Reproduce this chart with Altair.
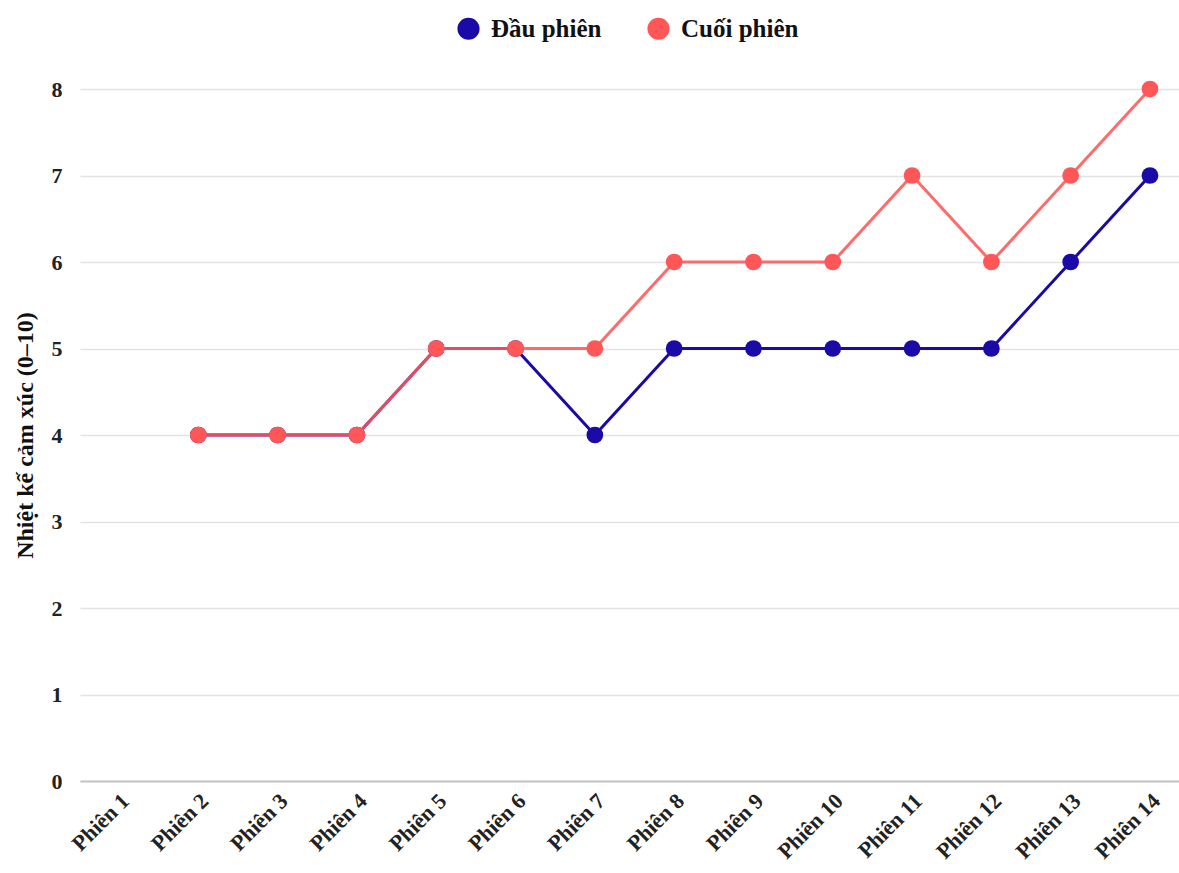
import altair as alt
import pandas as pd

sessions = [f"Phiên {i}" for i in range(1, 15)]
data_sessions = [f"Phiên {i}" for i in range(2, 15)]
dau_phien = [4, 4, 4, 5, 5, 4, 5, 5, 5, 5, 5, 6, 7]
cuoi_phien = [4, 4, 4, 5, 5, 5, 6, 6, 6, 7, 6, 7, 8]
series_names = ["Đầu phiên", "Cuối phiên"]
colors = ["#1a0aa8", "#ff5757"]

rows = []
for s, v in zip(data_sessions, dau_phien):
    rows.append({"session": s, "idx": sessions.index(s) + 1, "value": v, "series": series_names[0]})
for s, v in zip(data_sessions, cuoi_phien):
    rows.append({"session": s, "idx": sessions.index(s) + 1, "value": v, "series": series_names[1]})
df = pd.DataFrame(rows)

FONT = "Liberation Serif"

x_enc = alt.X(
    "idx:Q",
    scale=alt.Scale(domain=[0.508, 14.366], nice=False, zero=False),
    axis=alt.Axis(
        title=None,
        values=list(range(1, 15)),
        labelExpr="'Phiên ' + datum.value",
        labelAngle=-45,
        labelAlign="right",
        labelBaseline="middle",
        labelFont=FONT,
        labelFontSize=22,
        labelFontWeight="bold",
        labelColor="#222222",
        labelPadding=16,
        labelOffset=6,
        labelFlush=False,
        labelOverlap=False,
        ticks=False,
        domain=True,
        domainColor="#c4c4c4",
        domainWidth=2,
        grid=False,
    ),
)
y_enc = alt.Y(
    "value:Q",
    scale=alt.Scale(domain=[0, 8], nice=False),
    axis=alt.Axis(
        title="Nhiệt kế cảm xúc (0–10)",
        titleFont=FONT,
        titleFontSize=24,
        titleFontWeight="bold",
        titleColor="#111111",
        titlePadding=14,
        values=list(range(0, 9)),
        labelFont=FONT,
        labelFontSize=22,
        labelFontWeight="bold",
        labelColor="#222222",
        labelPadding=18,
        ticks=False,
        domain=False,
        gridColor="#e3e3e3",
        gridWidth=1.5,
    ),
)
color_enc = alt.Color(
    "series:N",
    scale=alt.Scale(domain=series_names, range=colors),
    legend=alt.Legend(
        title=None,
        orient="none",
        direction="horizontal",
        legendX=376,
        legendY=-73,
        symbolType="circle",
        symbolSize=490,
        symbolStrokeWidth=0,
        symbolOpacity=1,
        labelFont=FONT,
        labelFontSize=25,
        labelFontWeight="bold",
        labelColor="#111111",
        labelOffset=10,
        columnPadding=44,
    ),
)

base = alt.Chart(df)
layers = []
for i, name in enumerate(series_names):
    sub = base.transform_filter(alt.datum.series == name)
    line = sub.mark_line(strokeWidth=3, opacity=0.88 if i == 1 else 1).encode(
        x=x_enc, y=y_enc, color=color_enc
    )
    pts = sub.mark_circle(size=280, opacity=1).encode(x=x_enc, y=y_enc, color=color_enc)
    layers += [line, pts]

chart = alt.layer(*layers).properties(
    width=1099,
    height=692,
    autosize=alt.AutoSizeParams(type="none"),
    padding={"left": 80, "top": 89, "right": 0, "bottom": 92},
).configure(background="white").configure_view(strokeWidth=0)

chart.save("out.html", embed_options={"renderer": "svg", "actions": False})
